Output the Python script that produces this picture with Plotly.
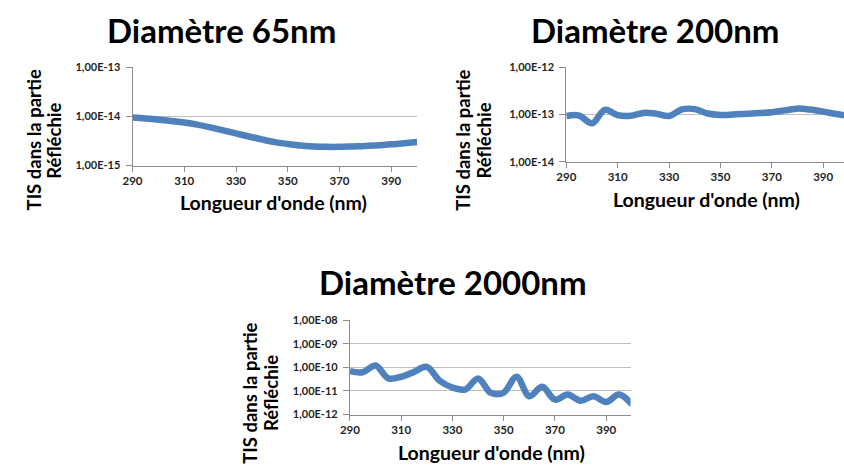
import plotly.graph_objects as go

W, H = 844, 475

wavelength = [290, 295, 300, 305, 310, 315, 320, 325, 330, 335, 340, 345,
              350, 355, 360, 365, 370, 375, 380, 385, 390, 395, 400]

tis_65nm = [9.5e-15, 9.1e-15, 8.6e-15, 8.1e-15, 7.5e-15, 6.8e-15, 6.0e-15, 5.2e-15,
            4.5e-15, 3.9e-15, 3.4e-15, 3.0e-15, 2.75e-15, 2.55e-15, 2.45e-15, 2.4e-15,
            2.4e-15, 2.45e-15, 2.5e-15, 2.6e-15, 2.7e-15, 2.85e-15, 3.0e-15]

tis_200nm = [0.93e-13, 0.95e-13, 0.65e-13, 1.25e-13, 0.97e-13, 0.94e-13, 1.08e-13, 1.04e-13,
             0.93e-13, 1.28e-13, 1.30e-13, 1.05e-13, 0.98e-13, 1.0e-13, 1.04e-13, 1.07e-13,
             1.12e-13, 1.22e-13, 1.33e-13, 1.27e-13, 1.15e-13, 1.02e-13, 0.93e-13]

tis_2000nm = [6.9e-11, 6.2e-11, 1.2e-10, 3.4e-11, 4.0e-11, 6.4e-11, 1.05e-10, 2.7e-11,
              1.4e-11, 1.15e-11, 3.4e-11, 8.3e-12, 8.5e-12, 4.0e-11, 6.0e-12, 1.5e-11,
              4.3e-12, 7.0e-12, 3.8e-12, 6.0e-12, 3.4e-12, 7.0e-12, 2.7e-12]

x_ticks = [290, 310, 330, 350, 370, 390]

titles = ["Diamètre 65nm", "Diamètre 200nm", "Diamètre 2000nm"]
y_title_lines = ["TIS dans la partie", "Réfléchie"]
x_title = "Longueur d'onde (nm)"

FONT = "Lato"
LINE = "#4F81BD"
GRID = "#BFBFBF"
AXIS = "#8C8C8C"
TXT = "#1F1F1F"


def px_x(p):
    return p / W


def px_y(p):
    return 1 - p / H


def exp_label(e):
    return "1,00E-%02d" % (-e)


fig = go.Figure()

panels = [
    (tis_65nm, (124, 412), (62, 163), [290, 400], (-15, -13)),
    (tis_200nm, (563, 844), (62, 159), [290, 398.1], (-14, -12)),
    (tis_2000nm, (344, 628), (322, 419), [290, 399.5], (-12, -8)),
]

for i, (ys, (x0, x1), (yt, yb), xr, (d0, d1)) in enumerate(panels):
    n = "" if i == 0 else str(i + 1)
    fig.add_trace(go.Scatter(
        x=wavelength, y=ys, mode="lines",
        line=dict(color=LINE, width=6.5, shape="spline", smoothing=1),
        xaxis="x" + n, yaxis="y" + n, showlegend=False, hoverinfo="skip"))
    decs = list(range(d0, d1 + 1))
    fig.layout["xaxis" + n] = dict(
        domain=[px_x(x0), px_x(x1)], anchor="y" + n, range=xr,
        tickvals=x_ticks, ticks="outside", ticklen=5, tickcolor=AXIS,
        showline=True, linecolor=AXIS, linewidth=1, showgrid=False, zeroline=False,
        tickfont=dict(family=FONT, size=11.5, color=TXT, weight="bold"),
    )
    fig.layout["yaxis" + n] = dict(
        domain=[px_y(yb), px_y(yt)], anchor="x" + n, type="log",
        range=[d0, d1], tickvals=[10.0 ** e for e in decs],
        ticktext=[exp_label(e) for e in decs],
        ticks="outside", ticklen=6, tickcolor=AXIS, ticklabelstandoff=3,
        showline=True, linecolor=AXIS, linewidth=1,
        showgrid=True, gridcolor=GRID, gridwidth=1, zeroline=False,
        tickfont=dict(family=FONT, size=11, color=TXT, weight="bold"),
    )

title_pos = [(214.5, 24), (652.5, 24), (448.5, 282.5)]
# (line1 x, line2 x, y centre)
ytitle_pos = [(24.5, 45, 137), (459, 480, 137), (243.5, 264, 397)]
xtitle_pos = [(267, 201), (705, 198), (487, 458)]

anns = []
for t, (tx, ty) in zip(titles, title_pos):
    anns.append(dict(text=t, x=px_x(tx), y=px_y(ty), xref="paper", yref="paper",
                     xanchor="center", yanchor="middle", showarrow=False,
                     font=dict(family=FONT, size=33, color="#000000", weight="bold")))
for (lx1, lx2, ty) in ytitle_pos:
    for line_text, lx in zip(y_title_lines, (lx1, lx2)):
        anns.append(dict(text=line_text, x=px_x(lx), y=px_y(ty), xref="paper", yref="paper",
                         xanchor="center", yanchor="middle", showarrow=False, textangle=-90,
                         font=dict(family=FONT, size=18.5, color="#000000", weight="bold")))
for (tx, ty) in xtitle_pos:
    anns.append(dict(text=x_title, x=px_x(tx), y=px_y(ty), xref="paper", yref="paper",
                     xanchor="center", yanchor="middle", showarrow=False,
                     font=dict(family=FONT, size=19.5, color="#000000", weight="bold")))

fig.update_layout(
    width=W, height=H, margin=dict(l=0, r=0, t=0, b=0),
    paper_bgcolor="white", plot_bgcolor="white",
    annotations=anns, font=dict(family=FONT),
)

fig.write_html("out.html", config={"displayModeBar": False},
               post_script="document.body.style.margin='0';document.body.style.overflow='hidden';")
